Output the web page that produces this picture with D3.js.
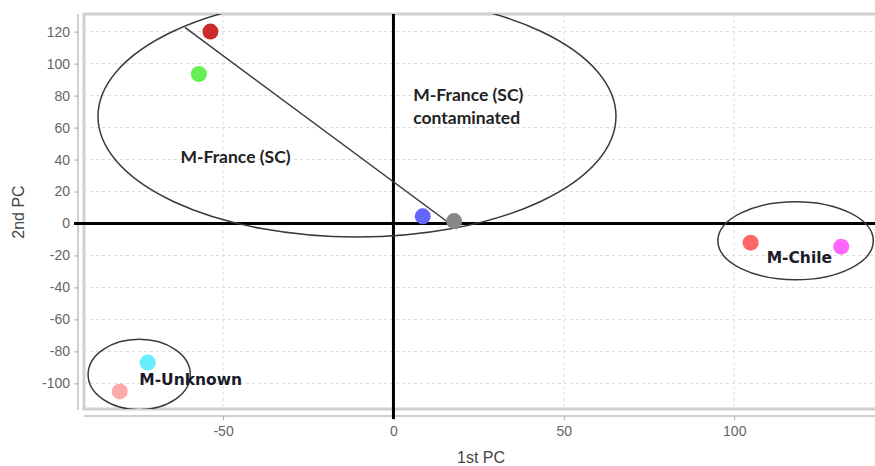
<!DOCTYPE html>
<html><head><meta charset="utf-8">
<script src="https://cdn.jsdelivr.net/npm/d3@7"></script>
<style>body{margin:0;background:#fff}svg{display:block}</style>
</head><body>
<svg id="chart" width="875" height="466"></svg>
<script>
// ---- data ----
const sampleNames = ["s1","s2","s3","s4","s5","s6","s7","s8"];
const pc1 = [-53.7, -57.1, 8.6, 17.8, 104.8, 131.4, -72.1, -80.3];
const pc2 = [120, 93.5, 4.5, 1.5, -12, -14.5, -87, -105];
const pointColors = ["#cc2a2a", "#66ee55", "#6666ff", "#888888", "#ff6666", "#ff66ff", "#66eeff", "#ffaaaa"];
const xTicks = [-50, 0, 50, 100];
const yTicks = [-100, -80, -60, -40, -20, 0, 20, 40, 60, 80, 100, 120];
// group ellipses: center (pc1, pc2) and radii in data units
const groupNames = ["M-France (SC)", "M-Chile", "M-Unknown"];
const ellCx = [-10.7, 118, -74.6];
const ellCy = [67, -10.8, -94.4];
const ellRx = [76, 22.8, 15];
const ellRy = [75.5, 24.4, 22];
// separator line inside the France ellipse
const sepLineX = [-61.2, 18.6];
const sepLineY = [122.6, -3.3];
// text labels
const labelText = [["M-France (SC)"], ["M-France (SC)", "contaminated"], ["M-Chile"], ["M-Unknown"]];
const labelX = [-62.5, 5.8, 109.5, -74.6];
const labelY = [38, 76.5, -25, -101];

// ---- layout ----
const svg = d3.select("#chart");
const L = 84, T = 14, R = 875, B = 409;
const x = d3.scaleLinear().domain([-90.8, 141.3]).range([L, R]);
const y = d3.scaleLinear().domain([-116, 131]).range([B, T]);

// plot background border
svg.append("rect").attr("x", L).attr("y", T).attr("width", R - L + 5).attr("height", B - T)
  .attr("fill", "#fff").attr("stroke", "#d0d0d0").attr("stroke-width", 3);

// gridlines
const grid = svg.append("g");
grid.selectAll(".gy").data(yTicks).join("line")
  .attr("x1", L).attr("x2", R).attr("y1", d => y(d)).attr("y2", d => y(d))
  .attr("stroke", "#dcdcdc").attr("stroke-dasharray", "3,3").attr("stroke-width", 1);
grid.selectAll(".gx").data(xTicks).join("line")
  .attr("y1", T).attr("y2", B).attr("x1", d => x(d)).attr("x2", d => x(d))
  .attr("stroke", "#dcdcdc").attr("stroke-dasharray", "3,3").attr("stroke-width", 1);

// axes
const fmt = d => String(d);
const yAxis = d3.axisLeft(y).tickValues(yTicks).tickFormat(fmt).tickSize(4).tickPadding(4);
const gy = svg.append("g").attr("transform", `translate(${L - 6},0)`).call(yAxis);
gy.select(".domain").attr("d", `M0,${T}V${B + 1}`).attr("stroke", "#cfcfcf").attr("stroke-width", 2);
gy.selectAll(".tick line").attr("stroke", "#aaa");
gy.selectAll(".tick text").attr("fill", "#666").style("font", "14px 'Liberation Sans', Arial, sans-serif");

const xAxis = d3.axisBottom(x).tickValues(xTicks).tickFormat(fmt).tickSize(4).tickPadding(6);
const gx = svg.append("g").attr("transform", `translate(0,${B + 7})`).call(xAxis);
gx.select(".domain").attr("d", `M${L},0H${R}`).attr("stroke", "#cfcfcf").attr("stroke-width", 2);
gx.selectAll(".tick line").attr("stroke", "#aaa");
gx.selectAll(".tick text").attr("fill", "#666").style("font", "14px 'Liberation Sans', Arial, sans-serif");

svg.append("text").attr("x", 481).attr("y", 463).attr("text-anchor", "middle")
  .attr("fill", "#444").style("font", "16px 'Liberation Sans', Arial, sans-serif").text("1st PC");
svg.append("text").attr("transform", "translate(24,212) rotate(-90)").attr("text-anchor", "middle")
  .attr("fill", "#444").style("font", "16px 'Liberation Sans', Arial, sans-serif").text("2nd PC");

// clip
svg.append("clipPath").attr("id", "clip").append("rect")
  .attr("x", L).attr("y", T).attr("width", R - L).attr("height", B - T);
const plot = svg.append("g").attr("clip-path", "url(#clip)");

// zero lines
plot.append("line").attr("x1", L).attr("x2", R).attr("y1", y(0)).attr("y2", y(0))
  .attr("stroke", "#000").attr("stroke-width", 3);
svg.append("line").attr("x1", L - 10).attr("x2", L).attr("y1", y(0)).attr("y2", y(0))
  .attr("stroke", "#000").attr("stroke-width", 3);
plot.append("line").attr("x1", x(0)).attr("x2", x(0)).attr("y1", T).attr("y2", B + 4)
  .attr("stroke", "#000").attr("stroke-width", 3);
svg.append("line").attr("x1", x(0)).attr("x2", x(0)).attr("y1", B).attr("y2", B + 10)
  .attr("stroke", "#000").attr("stroke-width", 3);

// ellipses
plot.selectAll(".ell").data(groupNames).join("ellipse")
  .attr("cx", (d, i) => x(ellCx[i])).attr("cy", (d, i) => y(ellCy[i]))
  .attr("rx", (d, i) => x(ellCx[i] + ellRx[i]) - x(ellCx[i]))
  .attr("ry", (d, i) => y(ellCy[i] - ellRy[i]) - y(ellCy[i]))
  .attr("fill", "none").attr("stroke", "#3a3a3a").attr("stroke-width", 1.5);

plot.append("line")
  .attr("x1", x(sepLineX[0])).attr("y1", y(sepLineY[0]))
  .attr("x2", x(sepLineX[1])).attr("y2", y(sepLineY[1]))
  .attr("stroke", "#3a3a3a").attr("stroke-width", 1.5);

// points
plot.selectAll(".pt").data(sampleNames).join("circle")
  .attr("cx", (d, i) => x(pc1[i])).attr("cy", (d, i) => y(pc2[i])).attr("r", 8)
  .attr("fill", (d, i) => pointColors[i]);

// labels
const fonts = ["bold 17.5px Lato, 'Open Sans', sans-serif", "bold 17.5px Lato, 'Open Sans', sans-serif",
  "bold 15.5px 'DejaVu Sans', sans-serif", "bold 15.5px 'DejaVu Sans', sans-serif"];
const fills = ["#222", "#222", "#1a1a2a", "#1a1a2a"];
labelText.forEach((lines, i) => {
  const t = svg.append("text").attr("x", x(labelX[i])).attr("y", y(labelY[i]))
    .attr("fill", fills[i]).style("font", fonts[i]);
  lines.forEach((s, j) => t.append("tspan").attr("x", x(labelX[i])).attr("dy", j === 0 ? 0 : 23).text(s));
});
</script>
</body></html>
